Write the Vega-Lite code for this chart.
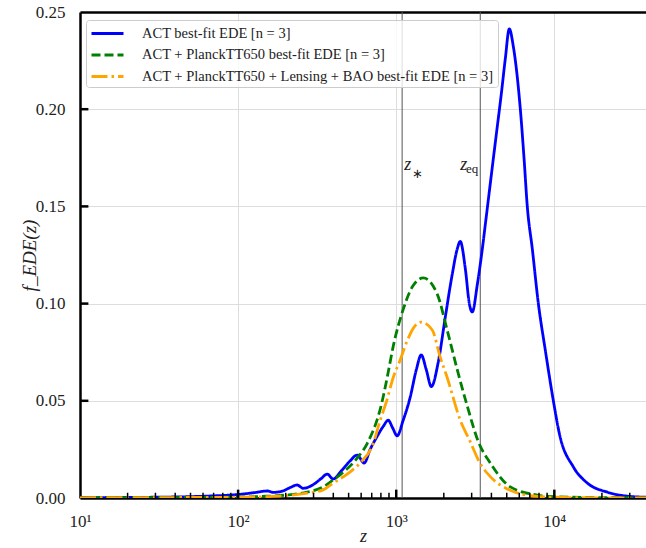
{
  "$schema": "https://vega.github.io/schema/vega-lite/v6.json",
  "width": 566,
  "height": 486,
  "autosize": {"type": "none"},
  "padding": {"left": 80, "top": 12, "right": 0, "bottom": 50},
  "config": {
    "view": {"stroke": null},
    "font": "Liberation Serif",
    "legend": {
      "orient": "none",
      "legendX": 6,
      "legendY": 8,
      "fillColor": "rgba(255,255,255,0.8)",
      "strokeColor": "#cccccc",
      "cornerRadius": 3,
      "padding": 4,
      "labelFont": "Liberation Serif",
      "labelFontSize": 14.5,
      "labelColor": "#222222",
      "labelLimit": 600,
      "symbolType": "M-2,0H2",
      "symbolSize": 256,
      "symbolOffset": 8,
      "symbolStrokeWidth": 2.8,
      "labelOffset": 25,
      "rowPadding": 5.5
    }
  },
  "datasets": {
    "curves": [
      {"series": "ACT best-fit EDE [n = 3]", "z": 10, "f": 0.0002},
      {"series": "ACT best-fit EDE [n = 3]", "z": 20, "f": 0.0003},
      {"series": "ACT best-fit EDE [n = 3]", "z": 30, "f": 0.0004},
      {"series": "ACT best-fit EDE [n = 3]", "z": 50, "f": 0.0007},
      {"series": "ACT best-fit EDE [n = 3]", "z": 70, "f": 0.0011},
      {"series": "ACT best-fit EDE [n = 3]", "z": 100, "f": 0.0018},
      {"series": "ACT best-fit EDE [n = 3]", "z": 125, "f": 0.0027},
      {"series": "ACT best-fit EDE [n = 3]", "z": 153, "f": 0.0036},
      {"series": "ACT best-fit EDE [n = 3]", "z": 167, "f": 0.0029},
      {"series": "ACT best-fit EDE [n = 3]", "z": 190, "f": 0.0035},
      {"series": "ACT best-fit EDE [n = 3]", "z": 215, "f": 0.0055},
      {"series": "ACT best-fit EDE [n = 3]", "z": 236, "f": 0.0067},
      {"series": "ACT best-fit EDE [n = 3]", "z": 258, "f": 0.0050},
      {"series": "ACT best-fit EDE [n = 3]", "z": 300, "f": 0.0070},
      {"series": "ACT best-fit EDE [n = 3]", "z": 335, "f": 0.0100},
      {"series": "ACT best-fit EDE [n = 3]", "z": 366, "f": 0.0123},
      {"series": "ACT best-fit EDE [n = 3]", "z": 399, "f": 0.0098},
      {"series": "ACT best-fit EDE [n = 3]", "z": 450, "f": 0.0140},
      {"series": "ACT best-fit EDE [n = 3]", "z": 510, "f": 0.0190},
      {"series": "ACT best-fit EDE [n = 3]", "z": 566, "f": 0.0221},
      {"series": "ACT best-fit EDE [n = 3]", "z": 627, "f": 0.0180},
      {"series": "ACT best-fit EDE [n = 3]", "z": 684, "f": 0.0250},
      {"series": "ACT best-fit EDE [n = 3]", "z": 755, "f": 0.0315},
      {"series": "ACT best-fit EDE [n = 3]", "z": 830, "f": 0.0370},
      {"series": "ACT best-fit EDE [n = 3]", "z": 890, "f": 0.0400},
      {"series": "ACT best-fit EDE [n = 3]", "z": 950, "f": 0.0360},
      {"series": "ACT best-fit EDE [n = 3]", "z": 1014, "f": 0.0320},
      {"series": "ACT best-fit EDE [n = 3]", "z": 1107, "f": 0.0400},
      {"series": "ACT best-fit EDE [n = 3]", "z": 1227, "f": 0.0520},
      {"series": "ACT best-fit EDE [n = 3]", "z": 1340, "f": 0.0660},
      {"series": "ACT best-fit EDE [n = 3]", "z": 1439, "f": 0.0736},
      {"series": "ACT best-fit EDE [n = 3]", "z": 1549, "f": 0.0660},
      {"series": "ACT best-fit EDE [n = 3]", "z": 1667, "f": 0.0573},
      {"series": "ACT best-fit EDE [n = 3]", "z": 1845, "f": 0.0700},
      {"series": "ACT best-fit EDE [n = 3]", "z": 2043, "f": 0.0930},
      {"series": "ACT best-fit EDE [n = 3]", "z": 2260, "f": 0.1150},
      {"series": "ACT best-fit EDE [n = 3]", "z": 2430, "f": 0.1280},
      {"series": "ACT best-fit EDE [n = 3]", "z": 2541, "f": 0.1320},
      {"series": "ACT best-fit EDE [n = 3]", "z": 2735, "f": 0.1180},
      {"series": "ACT best-fit EDE [n = 3]", "z": 2900, "f": 0.1000},
      {"series": "ACT best-fit EDE [n = 3]", "z": 3027, "f": 0.0957},
      {"series": "ACT best-fit EDE [n = 3]", "z": 3260, "f": 0.1100},
      {"series": "ACT best-fit EDE [n = 3]", "z": 3451, "f": 0.1240},
      {"series": "ACT best-fit EDE [n = 3]", "z": 3715, "f": 0.1450},
      {"series": "ACT best-fit EDE [n = 3]", "z": 3993, "f": 0.1660},
      {"series": "ACT best-fit EDE [n = 3]", "z": 4295, "f": 0.1870},
      {"series": "ACT best-fit EDE [n = 3]", "z": 4622, "f": 0.2080},
      {"series": "ACT best-fit EDE [n = 3]", "z": 4898, "f": 0.2260},
      {"series": "ACT best-fit EDE [n = 3]", "z": 5190, "f": 0.2413},
      {"series": "ACT best-fit EDE [n = 3]", "z": 5510, "f": 0.2320},
      {"series": "ACT best-fit EDE [n = 3]", "z": 6095, "f": 0.2000},
      {"series": "ACT best-fit EDE [n = 3]", "z": 6430, "f": 0.1750},
      {"series": "ACT best-fit EDE [n = 3]", "z": 6745, "f": 0.1500},
      {"series": "ACT best-fit EDE [n = 3]", "z": 7260, "f": 0.1280},
      {"series": "ACT best-fit EDE [n = 3]", "z": 7925, "f": 0.1000},
      {"series": "ACT best-fit EDE [n = 3]", "z": 8770, "f": 0.0760},
      {"series": "ACT best-fit EDE [n = 3]", "z": 9860, "f": 0.0500},
      {"series": "ACT best-fit EDE [n = 3]", "z": 10770, "f": 0.0330},
      {"series": "ACT best-fit EDE [n = 3]", "z": 13190, "f": 0.0160},
      {"series": "ACT best-fit EDE [n = 3]", "z": 16170, "f": 0.0077},
      {"series": "ACT best-fit EDE [n = 3]", "z": 21640, "f": 0.0030},
      {"series": "ACT best-fit EDE [n = 3]", "z": 30270, "f": 0.0008},
      {"series": "ACT best-fit EDE [n = 3]", "z": 38000, "f": 0.0004},

      {"series": "ACT + PlanckTT650 best-fit EDE [n = 3]", "z": 10, "f": 0.0001},
      {"series": "ACT + PlanckTT650 best-fit EDE [n = 3]", "z": 30, "f": 0.0002},
      {"series": "ACT + PlanckTT650 best-fit EDE [n = 3]", "z": 60, "f": 0.0003},
      {"series": "ACT + PlanckTT650 best-fit EDE [n = 3]", "z": 100, "f": 0.0005},
      {"series": "ACT + PlanckTT650 best-fit EDE [n = 3]", "z": 150, "f": 0.0009},
      {"series": "ACT + PlanckTT650 best-fit EDE [n = 3]", "z": 200, "f": 0.0015},
      {"series": "ACT + PlanckTT650 best-fit EDE [n = 3]", "z": 273, "f": 0.0030},
      {"series": "ACT + PlanckTT650 best-fit EDE [n = 3]", "z": 345, "f": 0.0057},
      {"series": "ACT + PlanckTT650 best-fit EDE [n = 3]", "z": 399, "f": 0.0093},
      {"series": "ACT + PlanckTT650 best-fit EDE [n = 3]", "z": 443, "f": 0.0120},
      {"series": "ACT + PlanckTT650 best-fit EDE [n = 3]", "z": 566, "f": 0.0205},
      {"series": "ACT + PlanckTT650 best-fit EDE [n = 3]", "z": 655, "f": 0.0280},
      {"series": "ACT + PlanckTT650 best-fit EDE [n = 3]", "z": 811, "f": 0.0490},
      {"series": "ACT + PlanckTT650 best-fit EDE [n = 3]", "z": 877, "f": 0.0620},
      {"series": "ACT + PlanckTT650 best-fit EDE [n = 3]", "z": 957, "f": 0.0780},
      {"series": "ACT + PlanckTT650 best-fit EDE [n = 3]", "z": 1107, "f": 0.0970},
      {"series": "ACT + PlanckTT650 best-fit EDE [n = 3]", "z": 1262, "f": 0.1085},
      {"series": "ACT + PlanckTT650 best-fit EDE [n = 3]", "z": 1483, "f": 0.1132},
      {"series": "ACT + PlanckTT650 best-fit EDE [n = 3]", "z": 1815, "f": 0.1050},
      {"series": "ACT + PlanckTT650 best-fit EDE [n = 3]", "z": 2100, "f": 0.0864},
      {"series": "ACT + PlanckTT650 best-fit EDE [n = 3]", "z": 2432, "f": 0.0660},
      {"series": "ACT + PlanckTT650 best-fit EDE [n = 3]", "z": 2820, "f": 0.0470},
      {"series": "ACT + PlanckTT650 best-fit EDE [n = 3]", "z": 3305, "f": 0.0290},
      {"series": "ACT + PlanckTT650 best-fit EDE [n = 3]", "z": 3936, "f": 0.0180},
      {"series": "ACT + PlanckTT650 best-fit EDE [n = 3]", "z": 5270, "f": 0.0057},
      {"series": "ACT + PlanckTT650 best-fit EDE [n = 3]", "z": 7800, "f": 0.0015},
      {"series": "ACT + PlanckTT650 best-fit EDE [n = 3]", "z": 10000, "f": 0.0007},
      {"series": "ACT + PlanckTT650 best-fit EDE [n = 3]", "z": 20000, "f": 0.0002},
      {"series": "ACT + PlanckTT650 best-fit EDE [n = 3]", "z": 38000, "f": 0.0001},

      {"series": "ACT + PlanckTT650 + Lensing + BAO best-fit EDE [n = 3]", "z": 10, "f": 0.0001},
      {"series": "ACT + PlanckTT650 + Lensing + BAO best-fit EDE [n = 3]", "z": 30, "f": 0.0002},
      {"series": "ACT + PlanckTT650 + Lensing + BAO best-fit EDE [n = 3]", "z": 60, "f": 0.0003},
      {"series": "ACT + PlanckTT650 + Lensing + BAO best-fit EDE [n = 3]", "z": 100, "f": 0.0004},
      {"series": "ACT + PlanckTT650 + Lensing + BAO best-fit EDE [n = 3]", "z": 150, "f": 0.0007},
      {"series": "ACT + PlanckTT650 + Lensing + BAO best-fit EDE [n = 3]", "z": 200, "f": 0.0012},
      {"series": "ACT + PlanckTT650 + Lensing + BAO best-fit EDE [n = 3]", "z": 273, "f": 0.0025},
      {"series": "ACT + PlanckTT650 + Lensing + BAO best-fit EDE [n = 3]", "z": 345, "f": 0.0042},
      {"series": "ACT + PlanckTT650 + Lensing + BAO best-fit EDE [n = 3]", "z": 399, "f": 0.0077},
      {"series": "ACT + PlanckTT650 + Lensing + BAO best-fit EDE [n = 3]", "z": 512, "f": 0.0134},
      {"series": "ACT + PlanckTT650 + Lensing + BAO best-fit EDE [n = 3]", "z": 591, "f": 0.0180},
      {"series": "ACT + PlanckTT650 + Lensing + BAO best-fit EDE [n = 3]", "z": 715, "f": 0.0280},
      {"series": "ACT + PlanckTT650 + Lensing + BAO best-fit EDE [n = 3]", "z": 792, "f": 0.0400},
      {"series": "ACT + PlanckTT650 + Lensing + BAO best-fit EDE [n = 3]", "z": 870, "f": 0.0500},
      {"series": "ACT + PlanckTT650 + Lensing + BAO best-fit EDE [n = 3]", "z": 957, "f": 0.0620},
      {"series": "ACT + PlanckTT650 + Lensing + BAO best-fit EDE [n = 3]", "z": 1059, "f": 0.0710},
      {"series": "ACT + PlanckTT650 + Lensing + BAO best-fit EDE [n = 3]", "z": 1175, "f": 0.0810},
      {"series": "ACT + PlanckTT650 + Lensing + BAO best-fit EDE [n = 3]", "z": 1300, "f": 0.0880},
      {"series": "ACT + PlanckTT650 + Lensing + BAO best-fit EDE [n = 3]", "z": 1439, "f": 0.0905},
      {"series": "ACT + PlanckTT650 + Lensing + BAO best-fit EDE [n = 3]", "z": 1690, "f": 0.0864},
      {"series": "ACT + PlanckTT650 + Lensing + BAO best-fit EDE [n = 3]", "z": 1897, "f": 0.0725},
      {"series": "ACT + PlanckTT650 + Lensing + BAO best-fit EDE [n = 3]", "z": 2100, "f": 0.0620},
      {"series": "ACT + PlanckTT650 + Lensing + BAO best-fit EDE [n = 3]", "z": 2541, "f": 0.0400},
      {"series": "ACT + PlanckTT650 + Lensing + BAO best-fit EDE [n = 3]", "z": 2937, "f": 0.0290},
      {"series": "ACT + PlanckTT650 + Lensing + BAO best-fit EDE [n = 3]", "z": 3380, "f": 0.0180},
      {"series": "ACT + PlanckTT650 + Lensing + BAO best-fit EDE [n = 3]", "z": 3936, "f": 0.0110},
      {"series": "ACT + PlanckTT650 + Lensing + BAO best-fit EDE [n = 3]", "z": 5270, "f": 0.0040},
      {"series": "ACT + PlanckTT650 + Lensing + BAO best-fit EDE [n = 3]", "z": 7800, "f": 0.0008},
      {"series": "ACT + PlanckTT650 + Lensing + BAO best-fit EDE [n = 3]", "z": 10000, "f": 0.0004},
      {"series": "ACT + PlanckTT650 + Lensing + BAO best-fit EDE [n = 3]", "z": 20000, "f": 0.0001},
      {"series": "ACT + PlanckTT650 + Lensing + BAO best-fit EDE [n = 3]", "z": 38000, "f": 0.0001}
    ],
    "epochs": [
      {"name": "zstar", "z": 1090, "f": 0.1687, "main": "z", "sub": "∗"},
      {"name": "zeq", "z": 3400, "f": 0.1687, "main": "z", "sub": "eq"}
    ],
    "xmajor": [{"z": 100}, {"z": 1000}, {"z": 10000}],
    "xminor": [
      {"z": 20}, {"z": 30}, {"z": 40}, {"z": 50}, {"z": 60}, {"z": 70}, {"z": 80}, {"z": 90},
      {"z": 200}, {"z": 300}, {"z": 400}, {"z": 500}, {"z": 600}, {"z": 700}, {"z": 800}, {"z": 900},
      {"z": 2000}, {"z": 3000}, {"z": 4000}, {"z": 5000}, {"z": 6000}, {"z": 7000}, {"z": 8000}, {"z": 9000},
      {"z": 20000}, {"z": 30000}
    ],
    "yticks": [{"f": 0.05}, {"f": 0.1}, {"f": 0.15}, {"f": 0.2}]
  },
  "layer": [
    {
      "data": {"name": "epochs"},
      "mark": {"type": "rule", "color": "#555555", "strokeWidth": 1},
      "encoding": {
        "x": {
          "field": "z",
          "type": "quantitative",
          "scale": {"type": "log", "domain": [10, 38000], "nice": false},
          "axis": {
            "orient": "top",
            "domain": true,
            "domainColor": "black",
            "domainWidth": 2.5,
            "ticks": false,
            "labels": false,
            "grid": false,
            "title": null
          }
        }
      }
    },
    {
      "data": {"name": "curves"},
      "mark": {"type": "line", "strokeWidth": 2.8, "interpolate": "monotone", "clip": true},
      "encoding": {
        "x": {
          "field": "z",
          "type": "quantitative",
          "scale": {"type": "log", "domain": [10, 38000], "nice": false},
          "axis": {
            "orient": "bottom",
            "values": [10, 100, 1000, 10000],
            "labelExpr": "datum.value == 10 ? '10¹' : datum.value == 100 ? '10²' : datum.value == 1000 ? '10³' : '10⁴'",
            "ticks": false,
            "domainColor": "black",
            "domainWidth": 2.5,
            "grid": true,
            "gridColor": "#dddddd",
            "gridWidth": 1,
            "labelFont": "Liberation Serif",
            "labelFontSize": 17,
            "labelColor": "#222222",
            "labelPadding": 15,
            "labelFlush": false,
            "labelOverlap": false,
            "title": "z",
            "titleFont": "Liberation Serif",
            "titleFontStyle": "italic",
            "titleFontWeight": "normal",
            "titleFontSize": 18,
            "titleColor": "#222222",
            "titlePadding": -2
          }
        },
        "y": {
          "field": "f",
          "type": "quantitative",
          "scale": {"domain": [0, 0.25], "nice": false},
          "axis": {
            "values": [0, 0.05, 0.1, 0.15, 0.2, 0.25],
            "format": ".2f",
            "ticks": false,
            "domainColor": "black",
            "domainWidth": 2.5,
            "grid": true,
            "gridColor": "#dddddd",
            "gridWidth": 1,
            "labelFont": "Liberation Serif",
            "labelFontSize": 17,
            "labelColor": "#222222",
            "labelPadding": 15,
            "title": "f_EDE(z)",
            "titleFont": "Liberation Serif",
            "titleFontStyle": "italic",
            "titleFontWeight": "normal",
            "titleFontSize": 19,
            "titleColor": "#222222",
            "titlePadding": -4
          }
        },
        "color": {
          "field": "series",
          "type": "nominal",
          "scale": {
            "domain": ["ACT best-fit EDE [n = 3]", "ACT + PlanckTT650 best-fit EDE [n = 3]", "ACT + PlanckTT650 + Lensing + BAO best-fit EDE [n = 3]"],
            "range": ["#0000ff", "#008000", "#ffa500"]
          },
          "legend": {"title": null}
        },
        "strokeDash": {
          "field": "series",
          "type": "nominal",
          "scale": {
            "domain": ["ACT best-fit EDE [n = 3]", "ACT + PlanckTT650 best-fit EDE [n = 3]", "ACT + PlanckTT650 + Lensing + BAO best-fit EDE [n = 3]"],
            "range": [[1, 0], [9, 4], [16, 4, 2.5, 4]]
          },
          "legend": {"title": null}
        }
      }
    },
    {
      "data": {"name": "xmajor"},
      "mark": {"type": "rule", "color": "black", "strokeWidth": 2.5},
      "encoding": {
        "x": {"field": "z", "type": "quantitative", "axis": null},
        "y": {"datum": 0, "type": "quantitative", "axis": null},
        "y2": {"datum": 0.0043}
      }
    },
    {
      "data": {"name": "xminor"},
      "mark": {"type": "rule", "color": "black", "strokeWidth": 1.5},
      "encoding": {
        "x": {"field": "z", "type": "quantitative", "axis": null},
        "y": {"datum": 0, "type": "quantitative", "axis": null},
        "y2": {"datum": 0.0027}
      }
    },
    {
      "data": {"name": "yticks"},
      "mark": {"type": "rule", "color": "black", "strokeWidth": 2.5},
      "encoding": {
        "y": {"field": "f", "type": "quantitative", "axis": null},
        "x": {"datum": 10, "type": "quantitative", "axis": null},
        "x2": {"datum": 11.3}
      }
    },
    {
      "data": {"name": "epochs"},
      "transform": [{"filter": "datum.name == 'zstar'"}],
      "mark": {"type": "text", "align": "left", "baseline": "alphabetic", "dx": 2, "font": "Liberation Serif", "fontStyle": "italic", "fontSize": 18, "color": "#222222"},
      "encoding": {
        "x": {"field": "z", "type": "quantitative", "axis": null},
        "y": {"field": "f", "type": "quantitative", "axis": null},
        "text": {"field": "main"}
      }
    },
    {
      "data": {"name": "epochs"},
      "transform": [{"filter": "datum.name == 'zstar'"}],
      "mark": {"type": "text", "align": "left", "baseline": "alphabetic", "dx": 10, "dy": 8, "font": "Liberation Serif", "fontSize": 13, "color": "#222222"},
      "encoding": {
        "x": {"field": "z", "type": "quantitative", "axis": null},
        "y": {"field": "f", "type": "quantitative", "axis": null},
        "text": {"field": "sub"}
      }
    },
    {
      "data": {"name": "epochs"},
      "transform": [{"filter": "datum.name == 'zeq'"}],
      "mark": {"type": "text", "align": "right", "baseline": "alphabetic", "dx": -13, "font": "Liberation Serif", "fontStyle": "italic", "fontSize": 18, "color": "#222222"},
      "encoding": {
        "x": {"field": "z", "type": "quantitative", "axis": null},
        "y": {"field": "f", "type": "quantitative", "axis": null},
        "text": {"field": "main"}
      }
    },
    {
      "data": {"name": "epochs"},
      "transform": [{"filter": "datum.name == 'zeq'"}],
      "mark": {"type": "text", "align": "right", "baseline": "alphabetic", "dx": -2, "dy": 3, "font": "Liberation Serif", "fontSize": 13, "color": "#222222"},
      "encoding": {
        "x": {"field": "z", "type": "quantitative", "axis": null},
        "y": {"field": "f", "type": "quantitative", "axis": null},
        "text": {"field": "sub"}
      }
    }
  ],
  "resolve": {"axis": {"x": "independent", "y": "independent"}}
}
